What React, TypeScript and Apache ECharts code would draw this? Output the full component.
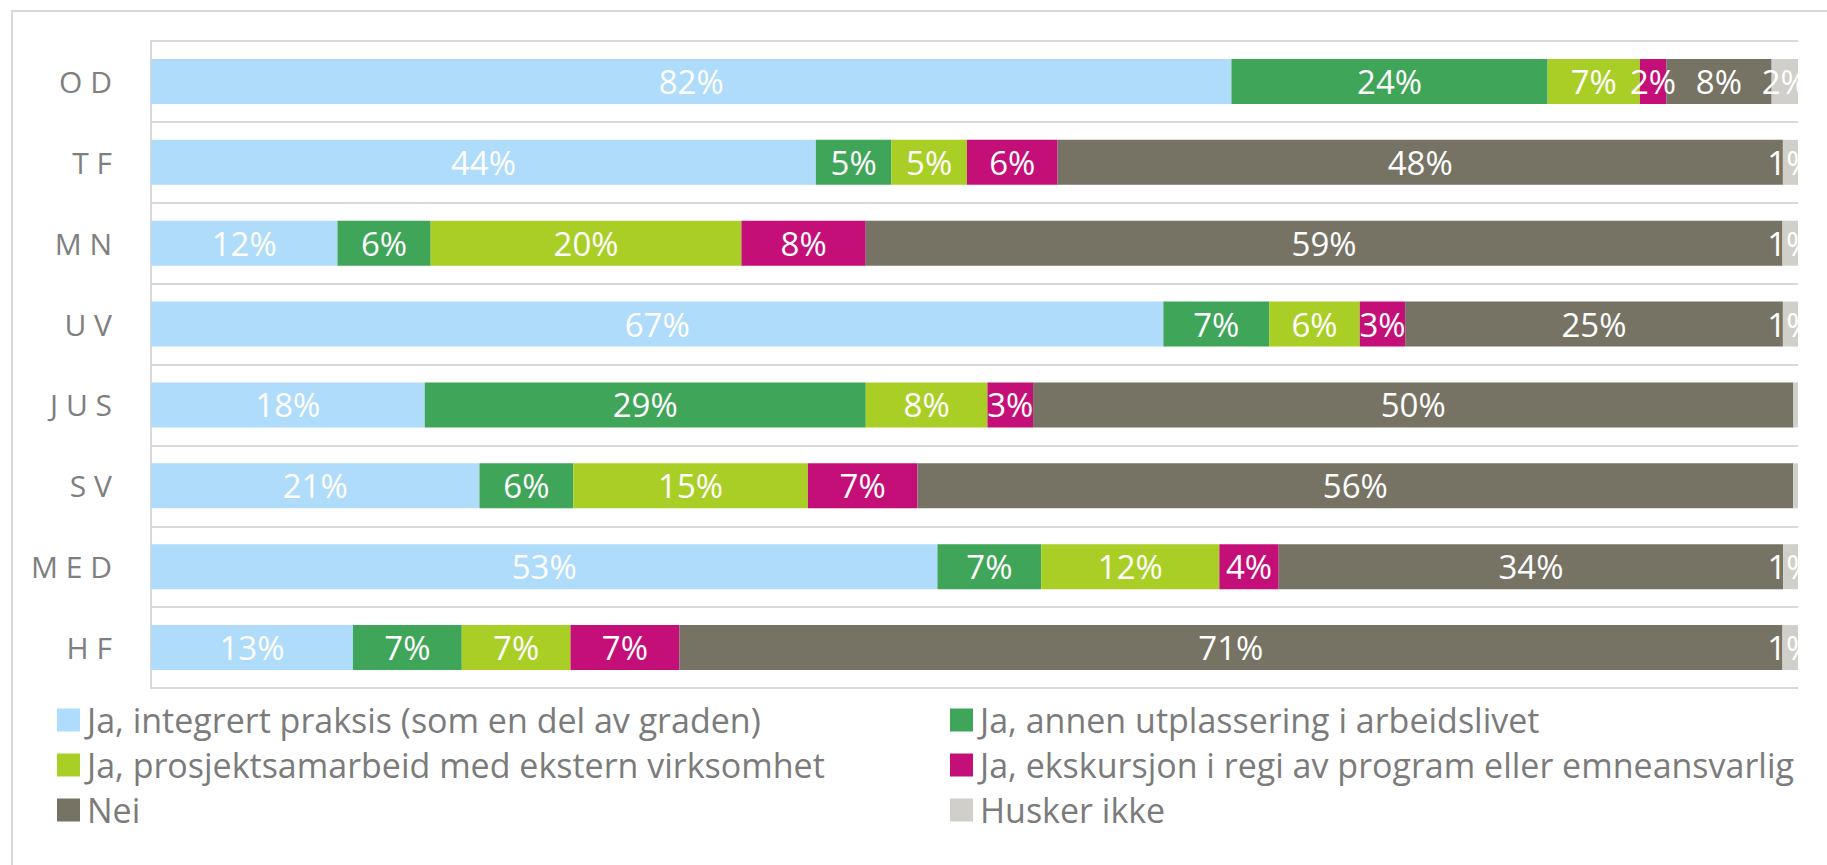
import React, { useEffect, useRef } from 'react';
import * as echarts from 'echarts';

const categories = ['OD', 'TF', 'MN', 'UV', 'JUS', 'SV', 'MED', 'HF'];
const seriesNames = [
  'Ja, integrert praksis (som en del av graden)',
  'Ja, annen utplassering i arbeidslivet',
  'Ja, prosjektsamarbeid med ekstern virksomhet',
  'Ja, ekskursjon i regi av program eller emneansvarlig',
  'Nei',
  'Husker ikke',
];
const integrert = [82, 44, 12, 67, 18, 21, 53, 13];
const annen = [24, 5, 6, 7, 29, 6, 7, 7];
const prosjekt = [7, 5, 20, 6, 8, 15, 12, 7];
const ekskursjon = [2, 6, 8, 3, 3, 7, 4, 7];
const nei = [8, 48, 59, 25, 50, 56, 34, 71];
const huskerIkke = [2, 1, 1, 1, 0.3, 0.3, 1, 1];
const seriesValues = [integrert, annen, prosjekt, ekskursjon, nei, huskerIkke];
const colors = ['#afdcfa', '#3fa558', '#a9cf26', '#c50f78', '#767364', '#d0cfca'];

const FONT = 'Open Sans';

export default function App() {
  const ref = useRef<HTMLDivElement>(null);
  useEffect(() => {
    const chart = echarts.init(ref.current!, null, { renderer: 'svg' });
    const totals = categories.map((_, i) =>
      seriesValues.reduce((s, arr) => s + arr[i], 0)
    );
    const series = seriesNames.map((name, si) => ({
      name,
      type: 'bar',
      stack: 'total',
      barWidth: 45,
      itemStyle: { color: colors[si] },
      label: {
        show: true,
        position: 'inside',
        color: '#ffffff',
        fontSize: 33,
        fontFamily: FONT,
        textBorderWidth: 0,
        formatter: (p: any) => {
          const v = seriesValues[si][p.dataIndex];
          return v < 0.5 ? '' : Math.round(v) + '%';
        },
      },
      data: seriesValues[si].map((v, i) => (v / totals[i]) * 100),
    }));
    const legendCommon = {
      orient: 'vertical',
      top: 702,
      padding: 0,
      itemWidth: 23,
      itemHeight: 23,
      itemGap: 9,
      icon: 'rect',
      textStyle: { color: '#7b7b7b', fontSize: 34, fontFamily: FONT, lineHeight: 36, padding: [0, 0, 0, 2] },
    };
    chart.setOption({
      animation: false,
      grid: { left: 151, top: 41, width: 1647, height: 647, containLabel: false },
      xAxis: { type: 'value', min: 0, max: 100, show: false },
      yAxis: {
        type: 'category',
        data: categories,
        inverse: true,
        axisLine: { show: true, lineStyle: { color: '#d9d9d9', width: 2 } },
        axisTick: { show: false },
        splitLine: { show: true, lineStyle: { color: '#d9d9d9', width: 2 } },
        axisLabel: {
          color: '#7f7f7f',
          fontSize: 30,
          fontFamily: FONT,
          margin: 39,
          formatter: (v: string) => v.split('').join(' '),
        },
      },
      legend: [
        { ...legendCommon, left: 57, data: [seriesNames[0], seriesNames[2], seriesNames[4]] },
        { ...legendCommon, left: 950, data: [seriesNames[1], seriesNames[3], seriesNames[5]] },
      ],
      graphic: [
        {
          type: 'rect',
          z: -1,
          shape: { x: 12, y: 11, width: 2000, height: 2000 },
          style: { fill: 'none', stroke: '#d9d9d9', lineWidth: 2 },
        },
        {
          type: 'rect',
          z: 100,
          shape: { x: 1799, y: 30, width: 40, height: 670 },
          style: { fill: '#ffffff' },
        },
      ],
      series,
    });
    return () => chart.dispose();
  }, []);
  return (
    <div
      ref={ref}
      style={{ position: 'fixed', left: 0, top: 0, width: 1827, height: 865, background: '#fff' }}
    />
  );
}
